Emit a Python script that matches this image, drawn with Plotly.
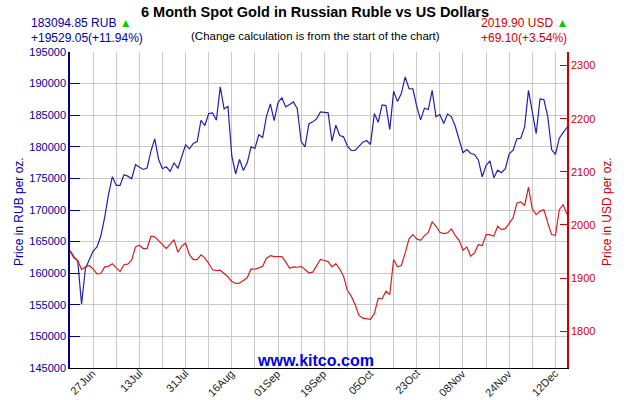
import plotly.graph_objects as go

# Trading-day index (weekdays 19 Jun 2023 .. 15 Dec 2023)
rub = [163566, 162630, 161936, 155099, 160736, 162204, 163515, 164146, 165883, 168836,
       172468, 175262, 173889, 173889, 175578, 175357, 174947, 177157, 176731, 176415,
       176620, 179305, 181263, 177994, 176526, 176841, 176099, 177473, 176573, 178515,
       180315, 179684, 180521, 180836, 184200, 183363, 185258, 185368, 184200, 189473,
       186000, 186410, 178515, 175736, 177994, 176257, 177473, 179999, 179731, 181894,
       181468, 184831, 186789, 184152, 187042, 187737, 186315, 186679, 187105, 186047,
       180836, 179999, 183631, 183947, 184421, 185526, 185447, 185368, 180884, 183410,
       181784, 181578, 180094, 179415, 179415, 179999, 180726, 180994, 180363, 185258,
       183884, 186631, 186521, 182731, 188779, 187152, 188416, 191052, 189205, 189158,
       186410, 184263, 186094, 185889, 188937, 184736, 185100, 183679, 185210, 184736,
       183252, 181152, 179052, 179573, 178942, 178784, 177884, 175262, 177047, 177789,
       175105, 176305, 175894, 176526, 178894, 179463, 181263, 181357, 183157, 188937,
       185368, 182100, 187579, 187468, 184831, 179573, 178784, 181357, 182257, 183094.85]

usd = [1950.8, 1938.0, 1933.0, 1916.0, 1921.0, 1923.5, 1917.0, 1908.0, 1908.5, 1921.0,
       1922.0, 1927.0, 1919.0, 1912.0, 1925.0, 1926.0, 1933.5, 1958.6, 1961.7, 1955.5,
       1955.5, 1978.6, 1977.5, 1971.0, 1963.0, 1955.5, 1965.0, 1972.4, 1948.5, 1959.8,
       1966.0, 1944.0, 1934.8, 1934.8, 1943.6, 1938.0, 1927.3, 1915.4, 1914.0, 1914.7,
       1908.5, 1902.3, 1893.4, 1889.7, 1890.2, 1895.9, 1900.4, 1917.0, 1916.5, 1919.0,
       1922.0, 1937.2, 1942.3, 1940.4, 1940.4, 1940.4, 1930.5, 1918.4, 1921.0, 1920.3,
       1922.0, 1916.0, 1909.8, 1911.0, 1923.5, 1934.8, 1933.0, 1931.0, 1921.0, 1927.0,
       1917.0, 1903.4, 1876.5, 1865.8, 1850.2, 1829.5, 1824.4, 1823.3, 1822.0, 1833.3,
       1861.5, 1861.0, 1875.2, 1869.0, 1934.8, 1921.0, 1923.5, 1947.4, 1973.7, 1981.8,
       1973.7, 1971.0, 1979.9, 1986.0, 2005.6, 1997.4, 1986.0, 1983.6, 1985.0, 1992.5,
       1979.9, 1971.0, 1952.3, 1958.6, 1941.0, 1947.4, 1963.0, 1961.0, 1981.8, 1981.8,
       1978.6, 1997.4, 1991.2, 1993.0, 2002.4, 2013.2, 2041.4, 2043.2, 2036.3, 2071.4,
       2030.0, 2019.4, 2025.6, 2028.8, 2003.8, 1981.8, 1980.5, 2028.8, 2038.0, 2019.9]

grid_pos = list(range(6, 127, 6))
label_pos = list(range(6, 127, 12))
tick_names = ["27Jun", "13Jul", "31Jul", "16Aug", "01Sep", "19Sep",
              "05Oct", "23Oct", "08Nov", "24Nov", "12Dec"]

rub_ticks = list(range(145000, 195001, 5000))
usd_ticks = [1800, 1900, 2000, 2100, 2200, 2300]

FONT = "Arial, Liberation Sans, sans-serif"
NAVY = "#000099"
RED = "#CC0000"

fig = go.Figure()
fig.add_trace(go.Scatter(x=list(range(len(rub))), y=rub, mode="lines",
                         line=dict(color="#2222A8", width=1.2), yaxis="y", hoverinfo="skip"))
fig.add_trace(go.Scatter(x=list(range(len(usd))), y=usd, mode="lines",
                         line=dict(color="#D42020", width=1.2), yaxis="y2", hoverinfo="skip"))

fig.update_layout(
    width=630, height=400,
    margin=dict(l=70, r=63, t=52, b=32),
    paper_bgcolor="white", plot_bgcolor="white",
    showlegend=False,
    font=dict(family=FONT, size=11, color="#000"),
    xaxis=dict(range=[0, 129], tickvals=grid_pos, showticklabels=False,
               showgrid=True, gridcolor="#C8C8C8", gridwidth=1, automargin=False,
               showline=True, linecolor="black", linewidth=1, ticks="", zeroline=False),
    yaxis=dict(range=[145000, 195000], tickvals=rub_ticks, ticktext=[str(v) for v in rub_ticks],
               showgrid=True, gridcolor="#C8C8C8", gridwidth=1, automargin=False,
               showline=True, linecolor="#000080", linewidth=1.5,
               ticks="inside", ticklen=10, tickcolor=NAVY,
               tickfont=dict(size=11, color=NAVY), zeroline=False),
    yaxis2=dict(range=[1730.5, 2325.7], tickvals=usd_ticks, overlaying="y", side="right",
                showgrid=False, showline=True, linecolor=RED, linewidth=1.5, automargin=False,
                ticks="inside", ticklen=7, tickcolor=RED,
                tickfont=dict(size=11, color=RED), zeroline=False),
)

def px(xp):
    return (xp - 70) / 497

def py(yp):
    return (368 - yp) / 316

ann = [
    dict(text="<b>6 Month Spot Gold in Russian Ruble vs US Dollars</b>", x=px(315), y=py(12),
         xanchor="center", yanchor="middle", font=dict(size=14.5, color="#000")),
    dict(text="(Change calculation is from the start of the chart)", x=px(315), y=py(36),
         xanchor="center", yanchor="middle", font=dict(size=11.5, color="#000")),
    dict(text="183094.85 RUB <span style='color:#00CC00'>▲</span>", x=px(29), y=py(23),
         xanchor="left", yanchor="middle", font=dict(size=12, color=NAVY)),
    dict(text="+19529.05(+11.94%)", x=px(29), y=py(38),
         xanchor="left", yanchor="middle", font=dict(size=12, color=NAVY)),
    dict(text="2019.90 USD <span style='color:#00CC00'>▲</span>", x=px(479), y=py(23),
         xanchor="left", yanchor="middle", font=dict(size=12, color=RED)),
    dict(text="+69.10(+3.54%)", x=px(479), y=py(38),
         xanchor="left", yanchor="middle", font=dict(size=12, color=RED)),
    dict(text="Price in RUB per oz.", x=px(19), y=py(212), textangle=-90,
         xanchor="center", yanchor="middle", font=dict(size=12, color=NAVY)),
    dict(text="Price in USD per oz.", x=px(607), y=py(212), textangle=-90,
         xanchor="center", yanchor="middle", font=dict(size=12, color=RED)),
    dict(text="<b>www.kitco.com</b>", x=px(315), y=py(360), xanchor="center", yanchor="middle",
         font=dict(size=16, color="#0000EE")),
]
for a in ann:
    a.update(xref="paper", yref="paper", showarrow=False)

for pos, name in zip(label_pos, tick_names):
    ann.append(dict(text=name, x=pos + 1.6, y=py(366), xref="x", yref="paper",
                    xanchor="right", yanchor="top", textangle=-45, showarrow=False,
                    borderpad=0, font=dict(size=11, color="#222")))

fig.update_layout(annotations=ann)

fig.write_html("out.html")
